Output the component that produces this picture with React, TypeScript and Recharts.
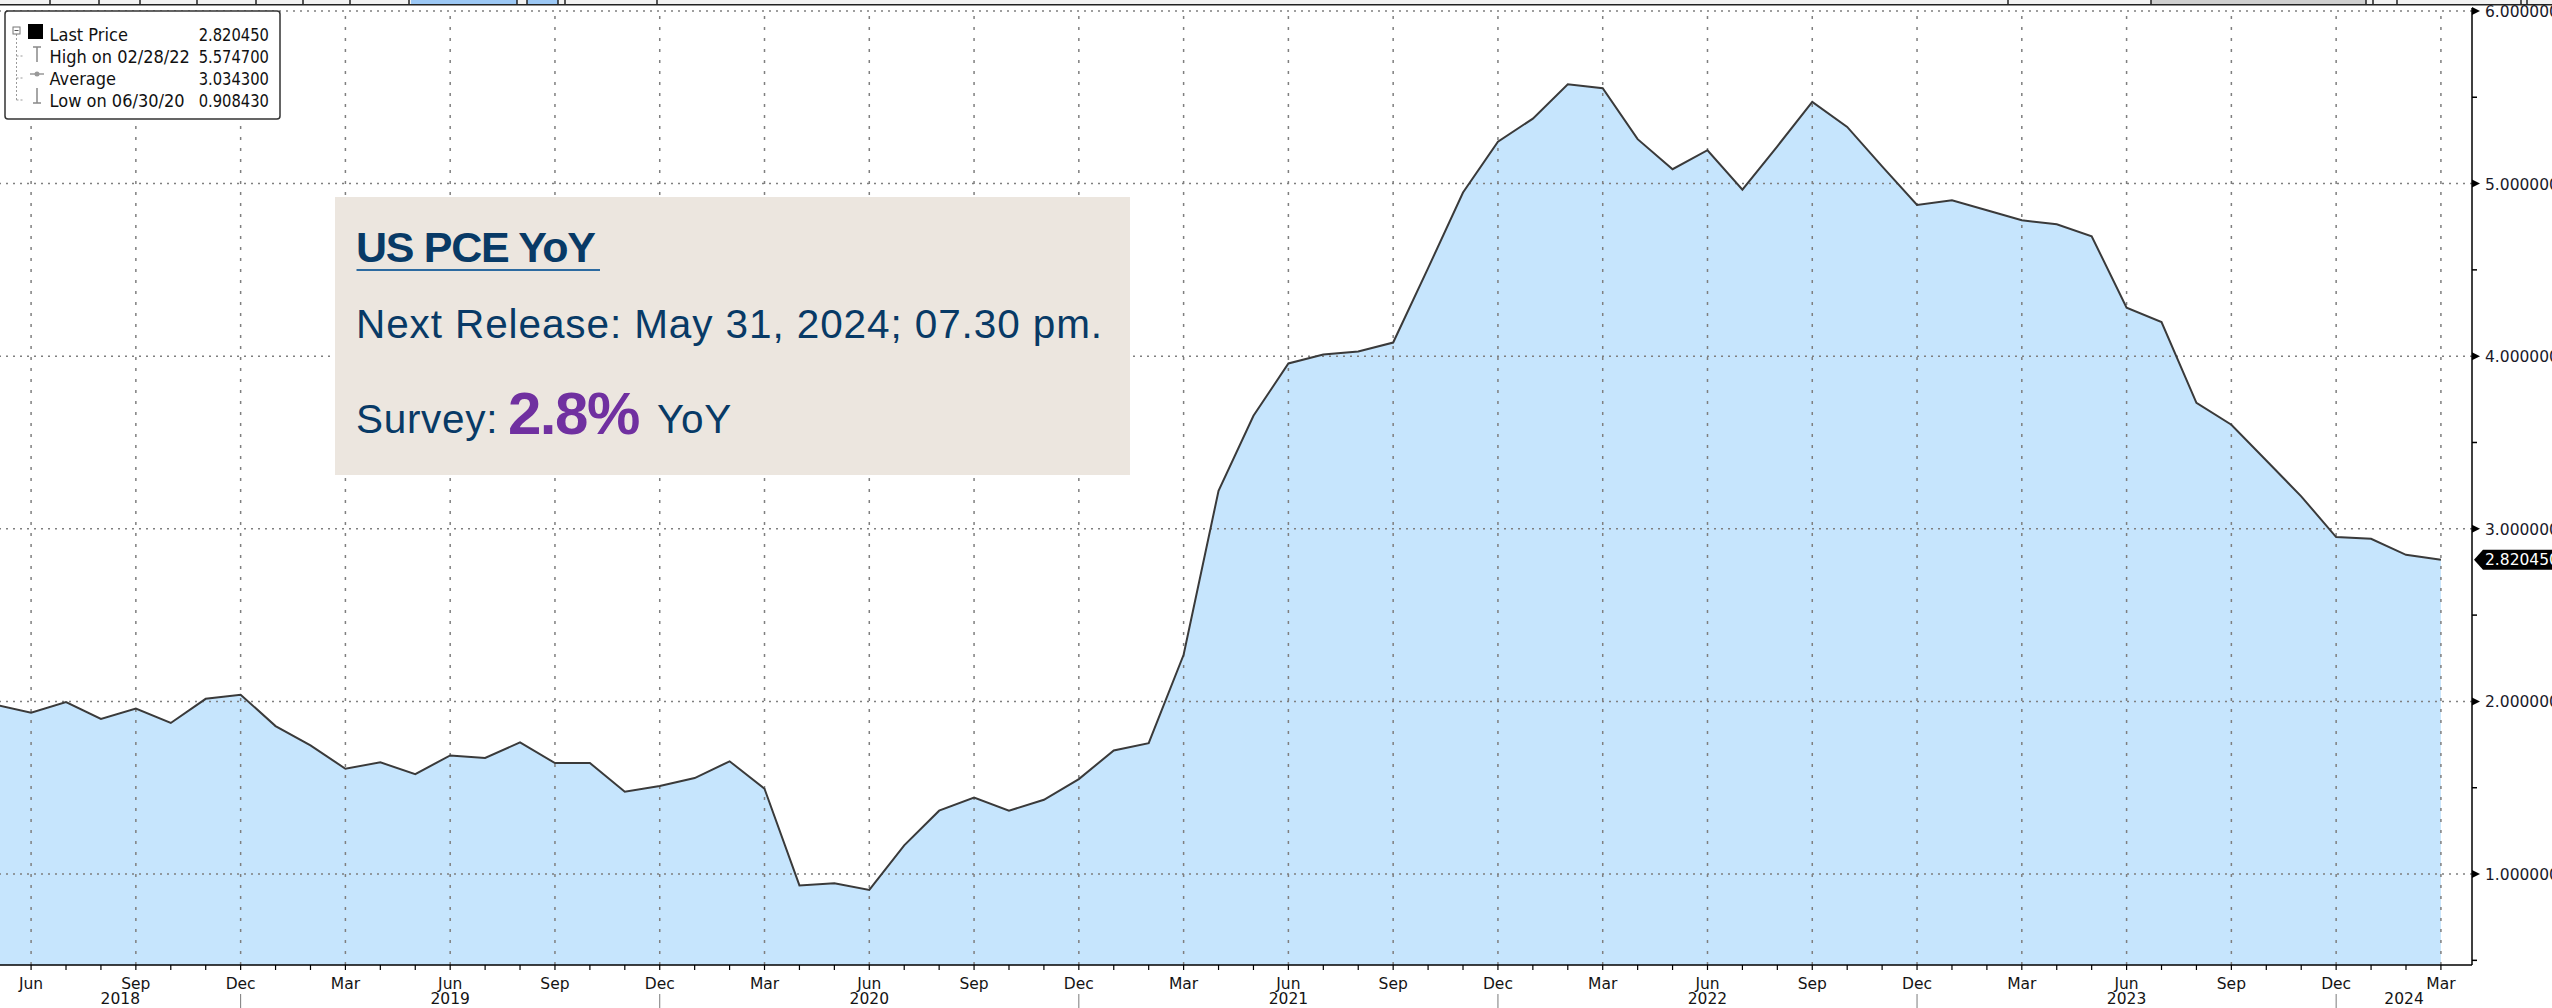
import React from "react";
import {
  ComposedChart,
  Area,
  Line,
  XAxis,
  YAxis,
  ReferenceLine,
} from "recharts";

// US PCE YoY (%), month-end prints, May 2018 .. Mar 2024
const PCE_2018 = [1.98, 1.934, 1.996, 1.898, 1.958, 1.875, 2.015, 2.039]; // May-Dec
const PCE_2019 = [1.857, 1.745, 1.61, 1.647, 1.579, 1.687, 1.672, 1.763, 1.643, 1.643, 1.477, 1.51];
const PCE_2020 = [1.556, 1.653, 1.494, 0.934, 0.946, 0.908, 1.166, 1.367, 1.443, 1.367, 1.43, 1.55];
const PCE_2021 = [1.716, 1.758, 2.27, 3.22, 3.655, 3.958, 4.01, 4.027, 4.079, 4.51, 4.948, 5.243];
const PCE_2022 = [5.376, 5.575, 5.552, 5.257, 5.083, 5.193, 4.965, 5.216, 5.473, 5.328, 5.1, 4.876];
const PCE_2023 = [4.903, 4.845, 4.787, 4.764, 4.695, 4.281, 4.198, 3.73, 3.603, 3.396, 3.188, 2.952];
const PCE_2024 = [2.942, 2.849, 2.82045]; // Jan-Mar

const START_YEAR = 2018;
const START_MONTH = 4; // May
const MONTH_NAMES = ["Jan", "Feb", "Mar", "Apr", "May", "Jun", "Jul", "Aug", "Sep", "Oct", "Nov", "Dec"];
const YEARS = ["2018", "2019", "2020", "2021", "2022", "2023", "2024"];
const Y_TICKS = [0.5, 1, 1.5, 2, 2.5, 3, 3.5, 4, 4.5, 5, 5.5, 6];
const Y_GRID = [1, 2, 3, 4, 5, 6];

const LAST = 2.82045;
const LEGEND_ROWS = [
  { label: "Last Price", value: "2.820450" },
  { label: "High on 02/28/22", value: "5.574700" },
  { label: "Average", value: "3.034300" },
  { label: "Low on 06/30/20", value: "0.908430" },
];

const SERIES = [...PCE_2018, ...PCE_2019, ...PCE_2020, ...PCE_2021, ...PCE_2022, ...PCE_2023, ...PCE_2024];
const data = SERIES.map((v, i) => ({ idx: i, pce: v }));

const monthOf = (i: number) => (START_MONTH + i) % 12;

// visible window (in month index units) - first point sits just off the left edge
const X_MIN = 0.11;
const X_MAX = 70.89;

const monthTicks = data.map((d) => d.idx).filter((i) => i > X_MIN && i < X_MAX);
const quarterIdx = monthTicks.filter((i) => monthOf(i) % 3 === 2);
const decIdx = monthTicks.filter((i) => monthOf(i) === 11);
const bounds = [X_MIN, ...decIdx, X_MAX];
const yearCenters = YEARS.map((_, k) => (bounds[k] + bounds[k + 1]) / 2);

const W = 2552;
const H = 1008;
const AXIS_FONT = "'DejaVu Sans', Verdana, sans-serif";
const BOX_FONT = "'Liberation Sans', Arial, sans-serif";
const NAVY = "#083a66";

const MonthTick = (props: any) => {
  const { x, y, payload } = props;
  const m = monthOf(Math.round(payload.value));
  return (
    <g>
      {m % 3 === 2 && (
        <text x={x} y={y + 19} textAnchor="middle" fontSize={15.5} fontFamily={AXIS_FONT} fill="#141414">
          {MONTH_NAMES[m]}
        </text>
      )}
      {m === 11 && <line x1={x} x2={x} y1={y + 24} y2={y + 45} stroke="#7a7a7a" strokeWidth={1} />}
    </g>
  );
};

const YearTick = (props: any) => {
  const { x, y, index } = props;
  return (
    <text x={x} y={y + 11} textAnchor="middle" fontSize={15.5} fontFamily={AXIS_FONT} fill="#141414">
      {YEARS[index]}
    </text>
  );
};

const PriceTick = (props: any) => {
  const { x, y, payload } = props;
  const v = payload.value;
  if (v === LAST) {
    return (
      <g>
        <polygon
          points={`${x + 2},${y} ${x + 11},${y - 10} ${W},${y - 10} ${W},${y + 10} ${x + 11},${y + 10}`}
          fill="#000"
        />
        <text x={x + 13} y={y + 5.5} fontSize={15.5} fontFamily={AXIS_FONT} fill="#fff">
          2.820450
        </text>
      </g>
    );
  }
  if (Number.isInteger(v)) {
    return (
      <g>
        <polygon points={`${x},${y - 4} ${x + 8},${y} ${x},${y + 4}`} fill="#000" />
        <text x={x + 13} y={y + 6} fontSize={15.5} fontFamily={AXIS_FONT} fill="#1a1a2a">
          {v.toFixed(6)}
        </text>
      </g>
    );
  }
  return <line x1={x} x2={x + 5} y1={y} y2={y} stroke="#000" strokeWidth={1.5} />;
};

function Toolbar() {
  const seps = [50, 99, 140, 197, 256, 303, 350, 409, 517, 527, 558, 565, 657, 2008, 2151, 2366, 2373, 2397, 2521, 2527];
  return (
    <g>
      <rect x={0} y={0} width={W} height={4.5} fill="#f2f2f2" />
      <rect x={411} y={0} width={106} height={4.5} fill="#9cc8f5" />
      <rect x={527} y={0} width={31} height={4.5} fill="#9cc8f5" />
      <rect x={2151} y={0} width={215} height={4.5} fill="#cfcfcf" />
      {seps.map((s) => (
        <line key={s} x1={s} x2={s} y1={0} y2={4.5} stroke="#222" strokeWidth={1.5} />
      ))}
      <line x1={0} x2={W} y1={4.75} y2={4.75} stroke="#222" strokeWidth={1.5} />
    </g>
  );
}

function LegendBox() {
  const rowY = [40.5, 62.5, 84.5, 106.5];
  return (
    <g>
      <rect x={5} y={11} width={275} height={108} rx={3} fill="#fff" stroke="#333" strokeWidth={1.5} />
      <line x1={16.5} x2={16.5} y1={34} y2={100} stroke="#9a9a9a" strokeDasharray="2 2" />
      {[56, 78, 100].map((yy) => (
        <line key={yy} x1={16.5} x2={23} y1={yy} y2={yy} stroke="#9a9a9a" strokeDasharray="2 2" />
      ))}
      <rect x={13} y={27} width={7} height={7} fill="#fff" stroke="#777" />
      <line x1={14.5} x2={18.5} y1={30.5} y2={30.5} stroke="#555" />
      <rect x={28} y={24} width={15} height={15} fill="#000" />
      <line x1={33} x2={41} y1={47} y2={47} stroke="#888" strokeWidth={1.5} />
      <line x1={37} x2={37} y1={47} y2={62} stroke="#888" strokeWidth={1.5} />
      <line x1={30} x2={44} y1={74} y2={74} stroke="#999" strokeWidth={1.5} />
      <circle cx={37} cy={74} r={2.5} fill="#999" />
      <line x1={37} x2={37} y1={88} y2={103} stroke="#888" strokeWidth={1.5} />
      <line x1={33} x2={41} y1={103} y2={103} stroke="#888" strokeWidth={1.5} />
      {LEGEND_ROWS.map((r, k) => (
        <g key={r.label} fontFamily={AXIS_FONT} fontSize={18} fill="#111">
          <g transform={`translate(49.5 ${rowY[k]}) scale(0.9 1)`}>
            <text x={0} y={0}>{r.label}</text>
          </g>
          <g transform={`translate(269 ${rowY[k]}) scale(0.82 1)`}>
            <text x={0} y={0} textAnchor="end">{r.value}</text>
          </g>
        </g>
      ))}
    </g>
  );
}

function InfoBox() {
  return (
    <g>
      <rect x={335} y={197} width={795} height={278} fill="#ece6df" />
      <text x={356} y={261.5} fontFamily={BOX_FONT} fontSize={43} fontWeight={700} fill={NAVY} letterSpacing={-1.3}>
        US PCE YoY
      </text>
      <line x1={356.5} x2={600} y1={270} y2={270} stroke="#2c6aa0" strokeWidth={2} />
      <text x={356} y={337.5} fontFamily={BOX_FONT} fontSize={40.5} fill={NAVY} letterSpacing={0.9}>
        Next Release: May 31, 2024; 07.30 pm.
      </text>
      <text x={356} y={433} fontFamily={BOX_FONT} fontSize={40.5} fill={NAVY} letterSpacing={0.7}>
        Survey:
      </text>
      <text x={508} y={434} fontFamily={BOX_FONT} fontSize={60} fontWeight={700} fill="#7030a0" letterSpacing={-1.5}>
        2.8%
      </text>
      <text x={657} y={433} fontFamily={BOX_FONT} fontSize={40.5} fill={NAVY} letterSpacing={0.7}>
        YoY
      </text>
    </g>
  );
}

export default function App() {
  return (
    <div style={{ position: "absolute", left: 0, top: 0, width: W, height: H, overflow: "hidden", background: "#fff" }}>
      <ComposedChart width={W} height={H} data={data} margin={{ top: 8, right: 0, bottom: 0, left: 0 }}>
        <XAxis
          xAxisId="month"
          dataKey="idx"
          type="number"
          domain={[X_MIN, X_MAX]}
          allowDataOverflow
          ticks={monthTicks}
          interval={0}
          height={28}
          tickSize={5}
          tickMargin={0}
          axisLine={{ stroke: "#000", strokeWidth: 1.5 }}
          tickLine={{ stroke: "#000", strokeWidth: 1.2 }}
          tick={<MonthTick />}
        />
        <XAxis
          xAxisId="year"
          dataKey="idx"
          type="number"
          domain={[X_MIN, X_MAX]}
          allowDataOverflow
          ticks={yearCenters}
          interval={0}
          height={15}
          tickSize={0}
          tickMargin={0}
          axisLine={false}
          tickLine={false}
          tick={<YearTick />}
        />
        <YAxis
          yAxisId="price"
          orientation="right"
          type="number"
          domain={[0.473, 6.017]}
          allowDataOverflow
          ticks={[...Y_TICKS, LAST]}
          interval={0}
          width={80}
          tickSize={0}
          tickMargin={0}
          axisLine={{ stroke: "#000", strokeWidth: 1.5 }}
          tickLine={false}
          tick={<PriceTick />}
        />
        <Area
          xAxisId="month"
          yAxisId="price"
          dataKey="pce"
          type="linear"
          fill="#c6e5fd"
          fillOpacity={1}
          stroke="none"
          isAnimationActive={false}
        />
        {Y_GRID.map((v) => (
          <ReferenceLine
            key={`h${v}`}
            xAxisId="month"
            yAxisId="price"
            y={v}
            stroke="#7f7f7f"
            strokeWidth={1.5}
            strokeDasharray="2 5"
          />
        ))}
        {quarterIdx.map((i) => (
          <ReferenceLine
            key={`v${i}`}
            xAxisId="month"
            yAxisId="price"
            x={i}
            stroke="#7f7f7f"
            strokeWidth={1.5}
            strokeDasharray="3 8"
          />
        ))}
        <Line
          xAxisId="month"
          yAxisId="price"
          dataKey="pce"
          type="linear"
          stroke="#3a3a3a"
          strokeWidth={2}
          dot={false}
          activeDot={false}
          isAnimationActive={false}
        />
      </ComposedChart>
      <svg width={W} height={H} style={{ position: "absolute", left: 0, top: 0, pointerEvents: "none" }}>
        <Toolbar />
        <LegendBox />
        <InfoBox />
      </svg>
    </div>
  );
}
